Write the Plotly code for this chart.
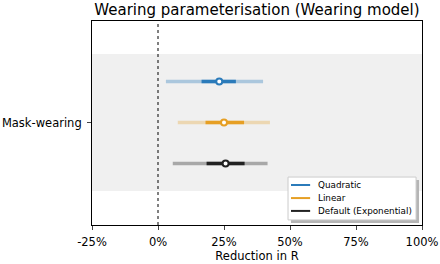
import plotly.graph_objects as go

# Data (fraction reduction in R)
series = ["Quadratic", "Linear", "Default (Exponential)"]
colors = ["#2b7bba", "#e69f24", "#222222"]
light_colors = ["rgba(43,123,186,0.35)", "rgba(230,159,36,0.3)", "rgba(34,34,34,0.35)"]
median = [0.232, 0.250, 0.256]
inner_lo = [0.165, 0.180, 0.184]
inner_hi = [0.295, 0.326, 0.328]
outer_lo = [0.030, 0.075, 0.056]
outer_hi = [0.398, 0.424, 0.415]
offsets = [0.30, 0.0, -0.30]
category = "Mask-wearing"
xticks = [-0.25, 0, 0.25, 0.5, 0.75, 1.0]
xticklabels = ["-25%", "0%", "25%", "50%", "75%", "100%"]

fig = go.Figure()

for i, name in enumerate(series):
    y = offsets[i]
    fig.add_trace(go.Scatter(x=[outer_lo[i], outer_hi[i]], y=[y, y], mode="lines",
                             line=dict(color=light_colors[i], width=3.5), showlegend=False,
                             hoverinfo="skip"))
    fig.add_trace(go.Scatter(x=[inner_lo[i], inner_hi[i]], y=[y, y], mode="lines",
                             line=dict(color=colors[i], width=3.5), showlegend=False,
                             hoverinfo="skip"))
    fig.add_trace(go.Scatter(x=[median[i]], y=[y], mode="markers",
                             marker=dict(color="white", size=6, line=dict(color=colors[i], width=2)),
                             showlegend=False, name=name))

# shaded band
fig.add_shape(type="rect", xref="paper", yref="y", x0=0, x1=1, y0=-0.5, y1=0.5,
              fillcolor="#f0f0f0", line=dict(width=0), layer="below")
# zero line
fig.add_shape(type="line", xref="x", yref="paper", x0=0, x1=0, y0=0, y1=1,
              line=dict(color="black", width=1, dash="dot"))

# manual legend (box with shadow)
bx0, bx1, by0, by1 = 0.594, 0.982, 0.025, 0.235
fig.add_shape(type="rect", xref="paper", yref="paper", x0=bx0 + 0.009, x1=bx1 + 0.009,
              y0=by0 - 0.015, y1=by1 - 0.015, fillcolor="#b5b5b5", line=dict(width=0), layer="above")
fig.add_shape(type="rect", xref="paper", yref="paper", x0=bx0, x1=bx1, y0=by0, y1=by1,
              fillcolor="white", line=dict(color="#cccccc", width=1), layer="above")
rows = [0.196, 0.132, 0.069]
for i, name in enumerate(series):
    fig.add_shape(type="line", xref="paper", yref="paper", x0=0.603, x1=0.661,
                  y0=rows[i], y1=rows[i], line=dict(color=colors[i], width=2), layer="above")
    fig.add_annotation(x=0.678, y=rows[i], xref="paper", yref="paper", text=name,
                       showarrow=False, xanchor="left", yanchor="middle",
                       font=dict(size=8.8, color="black"))

fig.update_layout(
    width=440, height=264,
    margin=dict(l=92, r=18, t=21, b=39),
    paper_bgcolor="white", plot_bgcolor="white",
    font=dict(family="DejaVu Sans", size=11.5, color="black"),
    title=dict(text="Wearing parameterisation (Wearing model)", x=0.584, xanchor="center",
               y=0.962, yanchor="middle", font=dict(size=15)),
    xaxis=dict(range=[-0.25, 1.0], tickvals=xticks, ticktext=xticklabels, automargin=False,
               showgrid=False, zeroline=False, ticks="outside", ticklen=4, ticklabelstandoff=2,
               showline=True, linecolor="black", linewidth=1, mirror=True,
               title=dict(text="Reduction in R", standoff=3, font=dict(size=11.5))),
    yaxis=dict(range=[-0.748, 0.741], tickvals=[0], ticktext=[category], automargin=False,
               showgrid=False, zeroline=False, ticks="outside", ticklen=4, ticklabelstandoff=3,
               showline=True, linecolor="black", linewidth=1, mirror=True),
    showlegend=False,
)

fig.write_html("out.html", config={"displayModeBar": False},
               post_script="document.body.style.margin='0';document.body.style.padding='0';")
